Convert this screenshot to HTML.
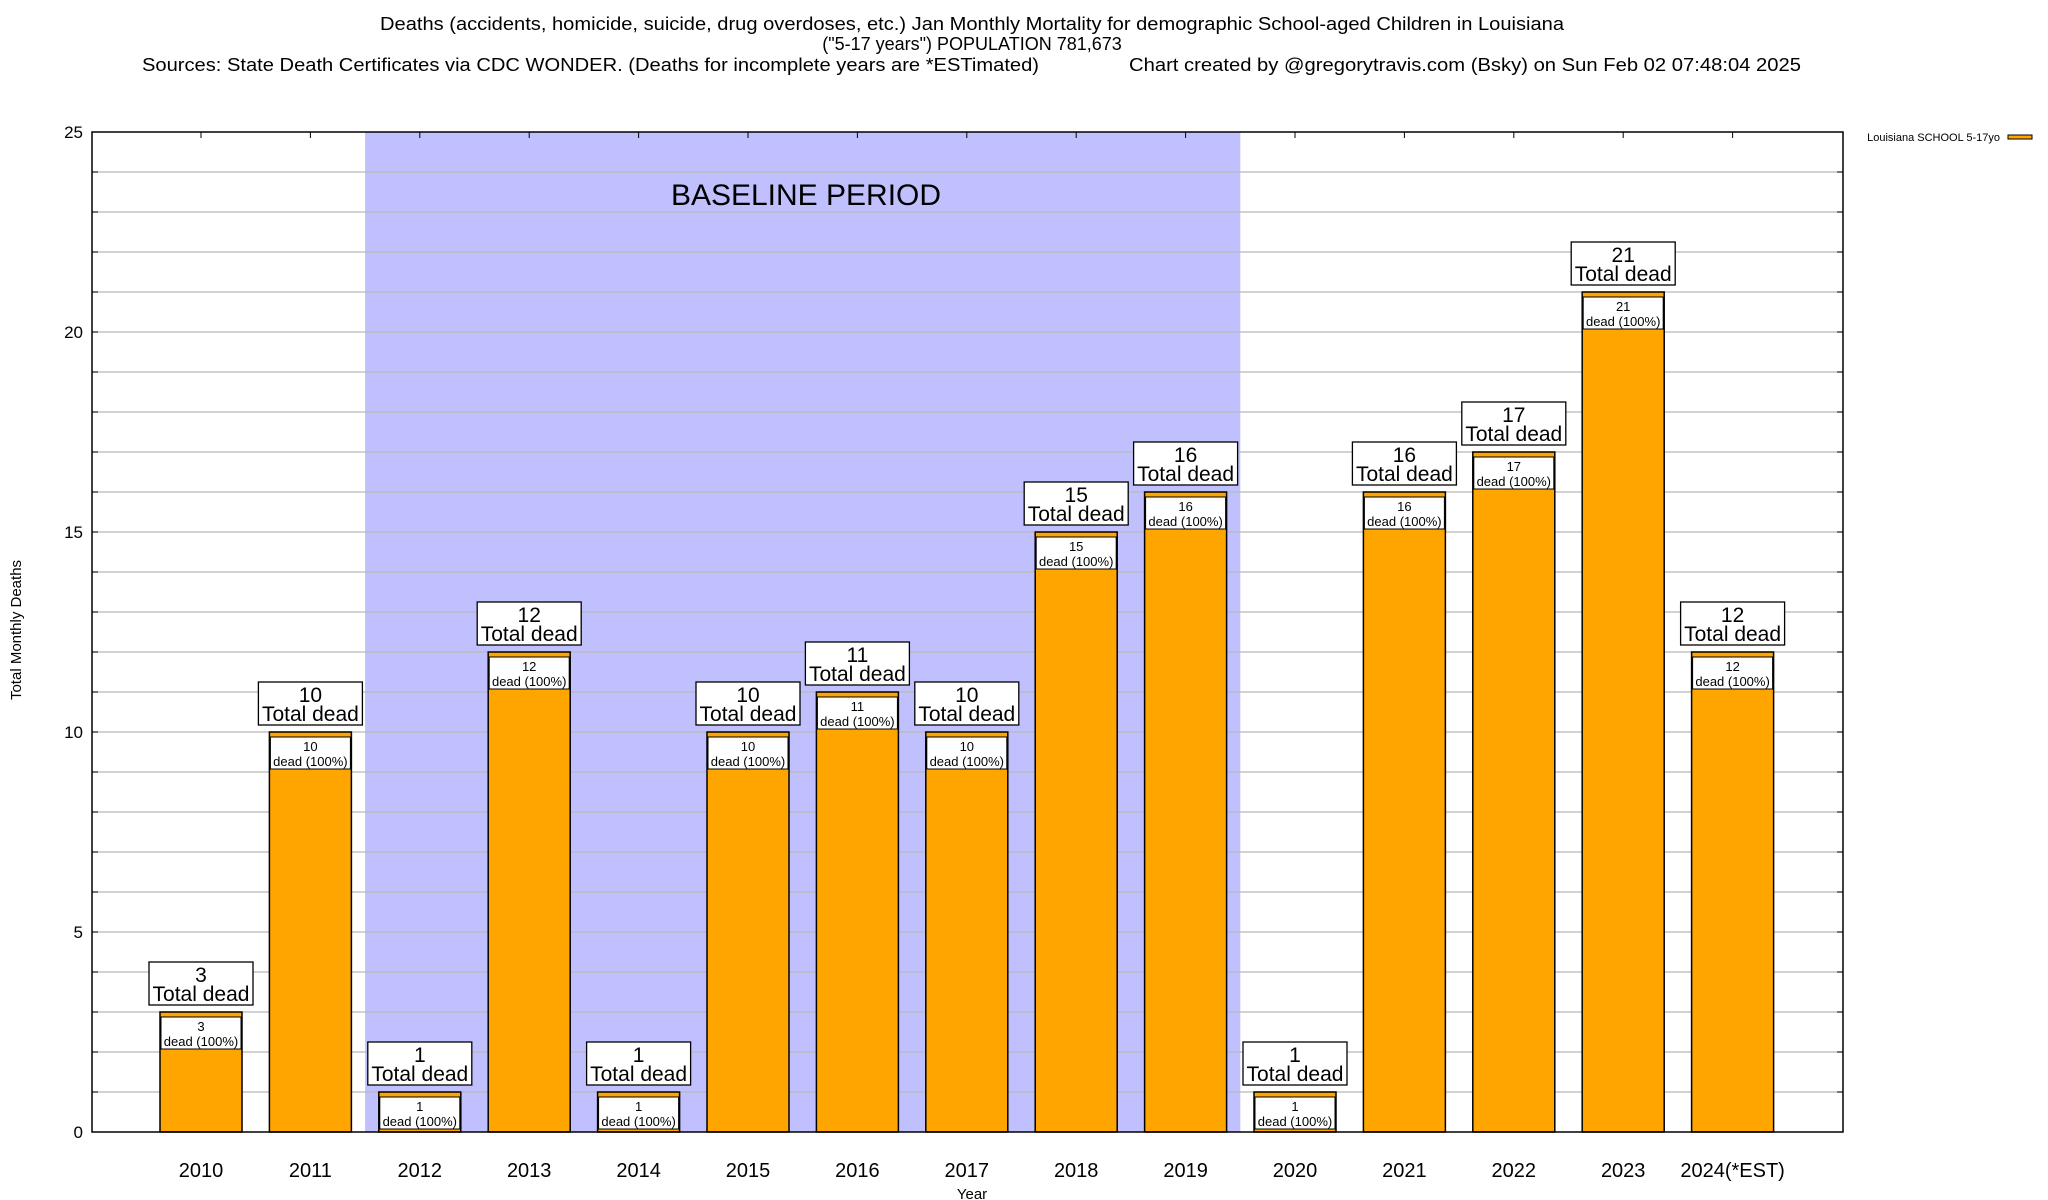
<!DOCTYPE html>
<html><head><meta charset="utf-8"><style>
html,body{margin:0;padding:0;background:#fff}
svg{display:block;font-family:"Liberation Sans",Arial,sans-serif}
</style></head><body>
<svg id="chart" width="2048" height="1200" viewBox="0 0 2048 1200" xmlns="http://www.w3.org/2000/svg">
<g>
<text x="972" y="30" font-size="18" text-anchor="middle" textLength="1184" lengthAdjust="spacingAndGlyphs">Deaths (accidents, homicide, suicide, drug overdoses, etc.) Jan Monthly Mortality for demographic School-aged Children in Louisiana</text>
<text x="972" y="50" font-size="18" text-anchor="middle">("5-17 years") POPULATION 781,673</text>
<text x="142" y="71" font-size="18" textLength="897" lengthAdjust="spacingAndGlyphs">Sources: State Death Certificates via CDC WONDER. (Deaths for incomplete years are *ESTimated)</text>
<text x="1129" y="71" font-size="18" textLength="672" lengthAdjust="spacingAndGlyphs">Chart created by @gregorytravis.com (Bsky) on Sun Feb 02 07:48:04 2025</text>
</g>
<g id="plot"></g>
<text transform="translate(21,630) rotate(-90)" font-size="15" text-anchor="middle">Total Monthly Deaths</text>
<text x="972" y="1199" font-size="15" text-anchor="middle">Year</text>
<g>
<text x="2000" y="141" font-size="11" text-anchor="end">Louisiana SCHOOL 5-17yo</text>
<rect x="2008" y="135" width="24" height="4" fill="#ffa500" stroke="#000" stroke-width="1"/>
</g>
</svg>
<script>
const categories = ["2010","2011","2012","2013","2014","2015","2016","2017","2018","2019","2020","2021","2022","2023","2024(*EST)"];
const deaths = [3,10,1,12,1,10,11,10,15,16,1,16,17,21,12];
const yTicks = [0,5,10,15,20,25];
const baselineStart = 1.5, baselineEnd = 9.5;

const NS = "http://www.w3.org/2000/svg";
const L = 92, R = 1843, T = 132, B = 1132, yMax = 25;
const step = 109.4, x0 = 201, barW = 82;
function xs(i){ return x0 + i*step; }
function ys(v){ return B - (v/yMax)*(B-T); }
const plot = document.getElementById('plot');
function mk(tag, attrs, parent){
  const e = document.createElementNS(NS, tag);
  for (const k in attrs) e.setAttribute(k, attrs[k]);
  (parent||plot).appendChild(e);
  return e;
}
const shade = mk('rect',{x:xs(baselineStart), y:T, width:xs(baselineEnd)-xs(baselineStart), height:B-T, fill:'#c0c0ff'});


const bl = mk('text',{x:806, y:205, 'font-size':30, 'text-anchor':'middle'});
bl.textContent = 'BASELINE PERIOD';


for (let v=1; v<yMax; v++){
  const g = mk('line',{x1:L, x2:R, y1:ys(v), y2:ys(v), stroke:'#b8b8b8', 'stroke-width':1.3});
  
  
  const tk = mk('line',{x1:L, x2:L+6, y1:ys(v), y2:ys(v), stroke:'#000'});
  
  
  const tk2 = mk('line',{x1:R-6, x2:R, y1:ys(v), y2:ys(v), stroke:'#000'});
  
  
}
yTicks.forEach(v=>{
  const t = mk('text',{x:83, y:ys(v)+6, 'font-size':17, 'text-anchor':'end'});
  t.textContent = v;
  
  
});
categories.forEach((c,i)=>{
  const v = deaths[i], cx = xs(i), top = ys(v);
  const tt = mk('line',{x1:cx, x2:cx, y1:T, y2:T+6, stroke:'#000'});
  
  
  const bar = mk('rect',{x:cx-barW/2, y:top, width:barW, height:B-top, fill:'#ffa500', stroke:'#000', 'stroke-width':1.5});
  
  
  const ib = mk('rect',{x:cx-barW/2+1, y:top+5, width:barW-2, height:32, fill:'#fff', stroke:'#000', 'stroke-width':1});
  
  
  const t1 = mk('text',{x:cx, y:top+19, 'font-size':13, 'text-anchor':'middle'});
  t1.textContent = v;
  
  
  const t2 = mk('text',{x:cx, y:top+34, 'font-size':13, 'text-anchor':'middle'});
  t2.textContent = 'dead (100%)';
  
  
  const ob = mk('rect',{x:cx-52, y:top-50, width:104, height:43, fill:'#fff', stroke:'#000', 'stroke-width':1.3});
  
  
  const o1 = mk('text',{x:cx, y:top-30, 'font-size':21, 'text-anchor':'middle'});
  o1.textContent = v;
  
  
  const o2 = mk('text',{x:cx, y:top-11, 'font-size':21, 'text-anchor':'middle'});
  o2.textContent = 'Total dead';
  
  
  const xl = mk('text',{x:cx, y:1177, 'font-size':20, 'text-anchor':'middle'});
  xl.textContent = c;
  
  
});
const frame = mk('rect',{x:L, y:T, width:R-L, height:B-T, fill:'none', stroke:'#000', 'stroke-width':1.5});


</script>
</body></html>
